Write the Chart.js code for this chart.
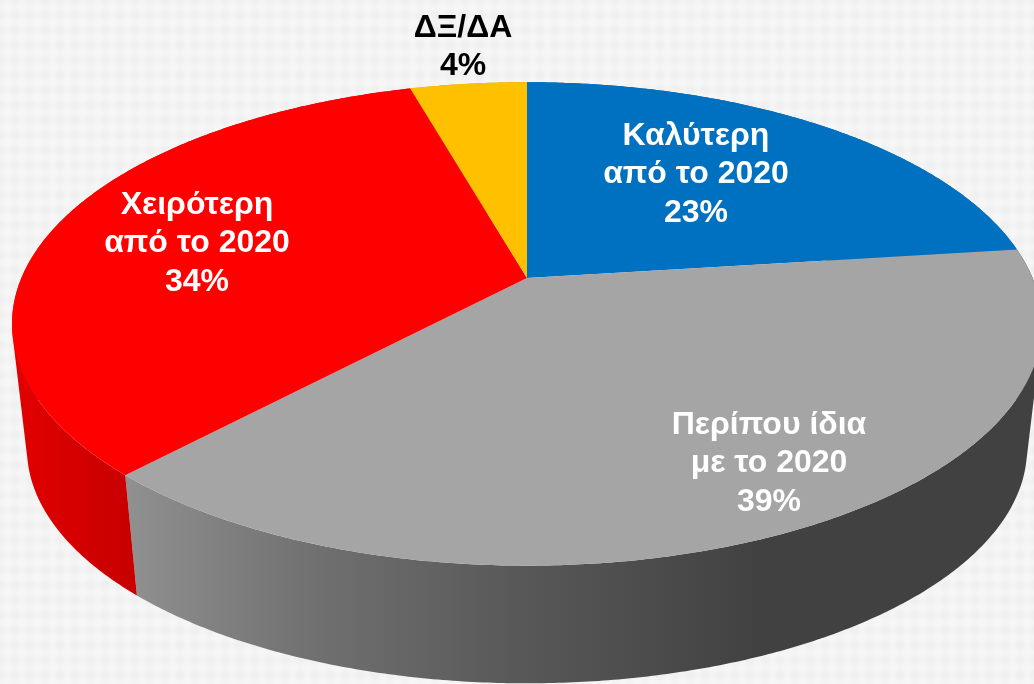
<!DOCTYPE html>
<html lang="el">
<head>
<meta charset="utf-8">
<title>Pie</title>
<script src="https://cdn.jsdelivr.net/npm/chart.js@4/dist/chart.umd.min.js"></script>
<style>
html,body{margin:0;padding:0;width:1034px;height:684px;overflow:hidden;background-color:#f3f3f3;
background-image:radial-gradient(circle,#f6f6f6 0,#f6f6f6 25%,rgba(246,246,246,0) 62%),radial-gradient(circle,#f0f0f0 0,#f0f0f0 25%,rgba(240,240,240,0) 62%);
background-size:15px 15px;background-position:0 0,7.5px 7.5px;}
canvas{display:block}
</style>
</head>
<body>
<canvas id="c" width="1034" height="684"></canvas>
<script>
const categories = ["Καλύτερη από το 2020", "Περίπου ίδια με το 2020", "Χειρότερη από το 2020", "ΔΞ/ΔΑ"];
const values = [23, 39, 33.6, 4.4];
const labelLines = [["Καλύτερη", "από το 2020"], ["Περίπου ίδια", "με το 2020"], ["Χειρότερη", "από το 2020"], ["ΔΞ/ΔΑ"]];
const topColors = ["#0070c0", "#a5a5a5", "#ff0000", "#ffc000"];
const labelColors = ["#ffffff", "#ffffff", "#ffffff", "#000000"];
const labelAnchors = [[696, 136], [769, 425], [197, 205], [463, 28]];
const lineStep = 38.5;

// Perspective of the tilted disc
const view = {cx: 527, cy: 278, a: 505.6, b: 233, k: 0.19, wallDrop: 126, wallScale: 0.971};

function project(angle, lower) {
  const u = Math.cos(angle), v = Math.sin(angle), w = 1 - view.k * v;
  const x = view.a * u / w, y = view.b * v / w;
  if (lower) return [view.cx + x * view.wallScale, view.cy + view.wallDrop + y * view.wallScale];
  return [view.cx + x, view.cy + y];
}

function wallStyle(ctx, i) {
  if (i === 1) {
    const g = ctx.createLinearGradient(127, 0, 760, 0);
    g.addColorStop(0, "#909090");
    g.addColorStop(0.3, "#707070");
    g.addColorStop(0.62, "#585858");
    g.addColorStop(1, "#414141");
    return g;
  }
  if (i === 2) {
    const g = ctx.createLinearGradient(15, 0, 130, 0);
    g.addColorStop(0, "#e20000");
    g.addColorStop(1, "#c80000");
    return g;
  }
  return i === 0 ? "#005a9a" : "#cc9a00";
}

function signedArea(q) {
  let s = 0;
  q.forEach((p, i) => {
    const n = q[(i + 1) % q.length];
    s += p[0] * n[1] - n[0] * p[1];
  });
  return s;
}

const pie3d = {
  id: "pie3d",
  beforeDatasetsDraw(chart) {
    const ctx = chart.ctx;
    const arcs = chart.getDatasetMeta(0).data;
    arcs.forEach((arc, i) => {
      const span = arc.endAngle - arc.startAngle;
      const steps = Math.max(16, Math.ceil(span * 120));
      ctx.save();
      ctx.fillStyle = wallStyle(ctx, i);
      ctx.beginPath();
      for (let s = 0; s < steps; s++) {
        const t0 = arc.startAngle + span * s / steps;
        const t1 = arc.startAngle + span * (s + 1) / steps;
        let q = [project(t0, false), project(t1, false), project(t1, true), project(t0, true)];
        if (signedArea(q) < 0) q = q.reverse();
        ctx.moveTo(q[0][0], q[0][1]);
        ctx.lineTo(q[1][0], q[1][1]);
        ctx.lineTo(q[2][0], q[2][1]);
        ctx.lineTo(q[3][0], q[3][1]);
        ctx.closePath();
      }
      ctx.fill();
      ctx.restore();
      // Each slice is drawn by Chart.js, through the perspective above
      arc.draw = function (c2) {
        const n = Math.max(16, Math.ceil((this.endAngle - this.startAngle) * 120));
        c2.save();
        c2.beginPath();
        c2.moveTo(view.cx, view.cy);
        for (let s = 0; s <= n; s++) {
          const p = project(this.startAngle + (this.endAngle - this.startAngle) * s / n, false);
          c2.lineTo(p[0], p[1]);
        }
        c2.closePath();
        c2.fillStyle = this.options.backgroundColor;
        c2.fill();
        c2.restore();
      };
    });
  },
  afterDatasetsDraw(chart) {
    const ctx = chart.ctx;
    ctx.save();
    ctx.font = 'bold 32px "Liberation Sans", Arial, sans-serif';
    ctx.textAlign = "center";
    ctx.textBaseline = "middle";
    values.forEach((val, i) => {
      const lines = labelLines[i].concat(Math.round(val) + "%");
      ctx.fillStyle = labelColors[i];
      lines.forEach((txt, l) => ctx.fillText(txt, labelAnchors[i][0], labelAnchors[i][1] + l * lineStep));
    });
    ctx.restore();
  }
};

new Chart(document.getElementById("c"), {
  type: "pie",
  data: {
    labels: categories,
    datasets: [{data: values, backgroundColor: topColors, borderWidth: 0}]
  },
  options: {
    responsive: false,
    animation: false,
    plugins: {legend: {display: false}, tooltip: {enabled: false}}
  },
  plugins: [pie3d]
});
</script>
</body>
</html>
